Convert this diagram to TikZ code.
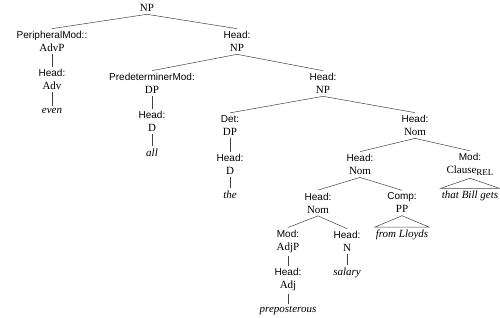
\documentclass[tikz,border=0pt]{standalone}
\usepackage{fontspec}
\setmainfont{Liberation Serif}
\setsansfont{Liberation Sans}
\newcommand\fn[1]{{\sffamily\fontsize{10}{13}\selectfont #1}}
\begin{document}
\begin{tikzpicture}[x=1pt,y=-1pt,
  every node/.style={font=\fontsize{11}{13}\selectfont,inner sep=2.5pt,align=center},
  word/.style={font=\fontsize{11}{13}\selectfont\itshape,inner xsep=1pt},
  br/.style={draw=black!75,line width=.5pt}]
\useasboundingbox (0,0) rectangle (500,317);
% top levels
\node (root) at (147,8) {NP};
\node (pmod) at (52,41.5) {\fn{PeripheralMod::}\\AdvP};
\node (padv) at (52,79.5) {\fn{Head:}\\Adv};
\node[word] (even) at (52,111) {even};
\node (hnp1) at (237,41.5) {\fn{Head:}\\NP};
\node (predet) at (152,83.5) {\fn{PredeterminerMod:}\\DP};
\node (predd) at (152,121.5) {\fn{Head:}\\D};
\node[word] (all) at (152,153) {all};
\node (hnp2) at (323,83.5) {\fn{Head:}\\NP};
\node (det) at (230,125.5) {\fn{Det:}\\DP};
\node (detd) at (230,164.5) {\fn{Head:}\\D};
\node[word] (the) at (230,195) {the};
% nominal part
\node (nom1) at (415,125.5) {\fn{Head:}\\Nom};
\node (nom2) at (360,164.5) {\fn{Head:}\\Nom};
\node (clause) at (470,164.5) {\fn{Mod:}\\Clause\raisebox{-.35ex}{\fontsize{9}{9}\selectfont REL}};
\node[word] (tbg) at (470,196) {that Bill gets};
\node (nom3) at (318,203) {\fn{Head:}\\Nom};
\node (comp) at (402,203) {\fn{Comp:}\\PP};
\node[word] (fl) at (402,235) {from Lloyds};
\node (adjp) at (288,241.5) {\fn{Mod:}\\AdjP};
\node (adj) at (288,279.5) {\fn{Head:}\\Adj};
\node[word] (prep) at (288,311) {preposterous};
\node (n) at (347,241.5) {\fn{Head:}\\N};
\node[word] (salary) at (347,273) {salary};
% branches
\foreach \a/\b in {root/pmod,root/hnp1,pmod/padv,padv/even,hnp1/predet,hnp1/hnp2,
  predet/predd,predd/all,hnp2/det,hnp2/nom1,det/detd,detd/the,nom1/nom2,nom1/clause,
  nom2/nom3,nom2/comp,nom3/adjp,nom3/n,adjp/adj,adj/prep,n/salary}
  \draw[br] (\a.south) -- (\b.north);
\draw[br] (clause.south) -- (tbg.north west) -- (tbg.north east) -- cycle;
\draw[br] (comp.south) -- (fl.north west) -- (fl.north east) -- cycle;
\end{tikzpicture}
\end{document}
